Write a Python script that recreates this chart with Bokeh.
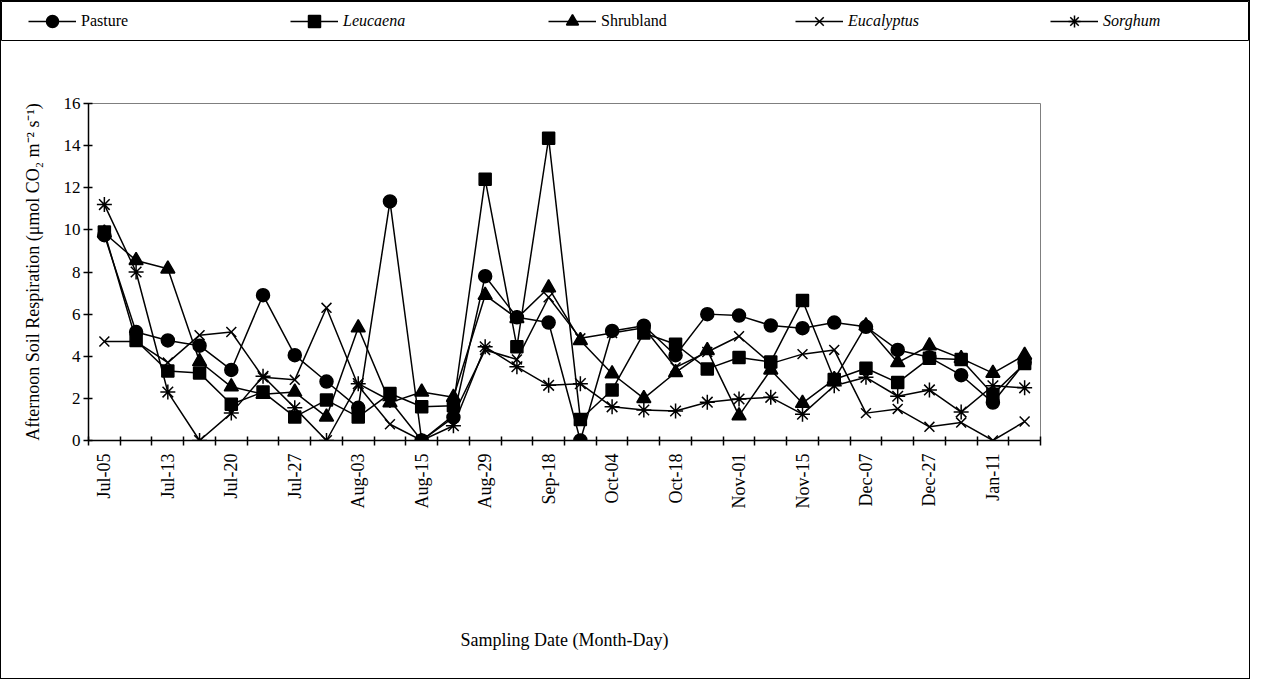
import math
from bokeh.plotting import figure
from bokeh.models import Range1d, FixedTicker, Legend, LegendItem, ColumnDataSource
from bokeh.layouts import column
from bokeh.embed import file_html
from bokeh.resources import INLINE

# ---------------- data ----------------
tick_labels = ["Jul-05", "Jul-13", "Jul-20", "Jul-27", "Aug-03", "Aug-15", "Aug-29",
               "Sep-18", "Oct-04", "Oct-18", "Nov-01", "Nov-15", "Dec-07", "Dec-27", "Jan-11"]
n_points = 30
y_ticks = [0, 2, 4, 6, 8, 10, 12, 14, 16]

pasture = [9.75, 5.15, 4.75, 4.5, 3.35, 6.9, 4.05, 2.8, 1.55, 11.35,
           0.0, 1.1, 7.8, 5.85, 5.6, 0.0, 5.2, 5.45, 4.05, 6.0,
           5.93, 5.46, 5.33, 5.6, 5.4, 4.3, 3.95, 3.1, 1.8, 3.7]
leucaena = [9.9, 4.75, 3.3, 3.2, 1.72, 2.3, 1.12, 1.92, 1.12, 2.23,
            1.6, 1.65, 12.4, 4.45, 14.35, 1.0, 2.4, 5.1, 4.57, 3.4,
            3.94, 3.73, 6.65, 2.9, 3.43, 2.75, 3.9, 3.85, 2.2, 3.65]
shrubland = [9.85, 8.55, 8.15, 3.75, 2.55, 2.2, 2.3, 1.12, 5.35, 1.8,
             2.3, 2.05, 6.9, 5.8, 7.25, 4.75, 3.17, 2.0, 3.23, 4.28,
             1.18, 3.35, 1.77, 2.9, 5.45, 3.7, 4.5, 3.9, 3.2, 4.05]
eucalyptus = [4.7, 4.7, 3.7, 5.0, 5.15, 3.0, 2.88, 6.3, 2.6, 0.77,
              0.0, 1.2, 4.3, 3.85, 6.8, 4.85, 5.1, 5.35, 3.47, 4.2,
              4.95, 3.65, 4.1, 4.3, 1.3, 1.5, 0.65, 0.85, 0.0, 0.9]
sorghum = [11.2, 8.0, 2.3, 0.0, 1.3, 3.05, 1.55, 0.0, 2.7, 1.9,
           0.0, 0.7, 4.45, 3.5, 2.62, 2.7, 1.6, 1.45, 1.4, 1.82,
           1.97, 2.05, 1.25, 2.6, 3.0, 2.1, 2.4, 1.35, 2.6, 2.5]

series_names = ["Pasture", "Leucaena", "Shrubland", "Eucalyptus", "Sorghum"]
series_values = [pasture, leucaena, shrubland, eucalyptus, sorghum]
series_markers = ["circle", "square", "triangle", "x", "asterisk"]
series_italic = [False, True, False, True, True]

# ---------------- styles ----------------
FONT = "Liberation Serif"
TICK_FS = "17px"
DATE_FS = "18px"
TITLE_FS = "18px"
LEG_FS = "16px"
marker_size = {"circle": 13, "square": 12, "triangle": 14, "x": 14, "asterisk": 15}

x_idx = list(range(n_points))
label_pos = list(range(0, n_points, 2))

# ---------------- legend strip ----------------
L = figure(width=1248, height=40, x_range=Range1d(-0.5, n_points - 0.5),
           y_range=Range1d(100, 101),   # series kept out of view: only the legend shows
           toolbar_location=None, output_backend="svg",
           min_border_left=0, min_border_right=0, min_border_top=0, min_border_bottom=1,
           x_axis_location=None, y_axis_location=None)
L.frame_align = False
L.grid.visible = False
L.outline_line_color = "black"
L.outline_line_width = 1
L.background_fill_color = None

legend_x = [27, 289, 547, 794, 1049]
for name, vals, mk, ital, lx in zip(series_names, series_values, series_markers,
                                     series_italic, legend_x):
    src = ColumnDataSource(data=dict(x=x_idx, y=vals))
    lr = L.line("x", "y", source=src, line_color="black", line_width=1.5)
    sr = L.scatter("x", "y", source=src, marker=mk, size=marker_size[mk],
                   fill_color="black", line_color="black", line_width=1.5)
    leg = Legend(items=[LegendItem(label=name, renderers=[lr, sr])],
                 location=(lx, 4), orientation="horizontal",
                 border_line_color=None, background_fill_alpha=0,
                 padding=0, margin=0, glyph_width=48, glyph_height=30,
                 label_standoff=5, label_text_font=FONT, label_text_font_size=LEG_FS,
                 label_text_color="black",
                 label_text_font_style="italic" if ital else "normal")
    L.add_layout(leg)

# ---------------- main chart ----------------
M = figure(width=1248, height=637, x_range=Range1d(-0.5, n_points - 0.5),
           y_range=Range1d(0, 16), toolbar_location=None, output_backend="svg",
           min_border_left=87, min_border_right=209, min_border_top=62,
           min_border_bottom=238)
M.frame_align = False
M.grid.visible = False
M.outline_line_color = "#7f7f7f"
M.outline_line_width = 1

for vals, mk in zip(series_values, series_markers):
    src = ColumnDataSource(data=dict(x=x_idx, y=vals))
    M.line("x", "y", source=src, line_color="black", line_width=1.5)
    M.scatter("x", "y", source=src, marker=mk, size=marker_size[mk],
              fill_color="black", line_color="black", line_width=1.5)

# x axis
xa = M.xaxis[0]
xa.ticker = FixedTicker(ticks=label_pos,
                        minor_ticks=[i - 0.5 for i in range(n_points + 1)])
xa.major_label_overrides = {p: t for p, t in zip(label_pos, tick_labels)}
xa.major_tick_in = 0
xa.major_tick_out = 0
xa.minor_tick_in = 4
xa.minor_tick_out = 5
xa.minor_tick_line_color = "black"
xa.minor_tick_line_width = 1.5
xa.major_label_orientation = math.pi / 2
xa.major_label_standoff = 8
xa.axis_label = "Sampling Date (Month-Day)"
xa.axis_label_standoff = 119

# y axis
ya = M.yaxis[0]
ya.ticker = FixedTicker(ticks=y_ticks, minor_ticks=[])
ya.major_tick_in = 4
ya.major_tick_out = 5
ya.major_tick_line_width = 1.5
ya.major_label_standoff = 3
ya.axis_label = "Afternoon Soil Respiration (\u03bcmol CO\u2082 m\u207b\u00b2 s\u207b\u00b9)"
ya.axis_label_standoff = 18

for ax in (xa, ya):
    ax.axis_line_color = "black"
    ax.axis_line_width = 1.5
    ax.major_tick_line_color = "black"
    ax.major_label_text_font = FONT
    ax.major_label_text_font_size = TICK_FS
    ax.major_label_text_color = "black"
    ax.axis_label_text_font = FONT
    ax.axis_label_text_font_size = TITLE_FS
    ax.axis_label_text_font_style = "normal"
    ax.axis_label_text_color = "black"
xa.major_label_text_font_size = DATE_FS

layout = column(L, M, spacing=0)
layout.styles = {"border": "1px solid black"}

open("out.html", "w").write(file_html(layout, INLINE))
